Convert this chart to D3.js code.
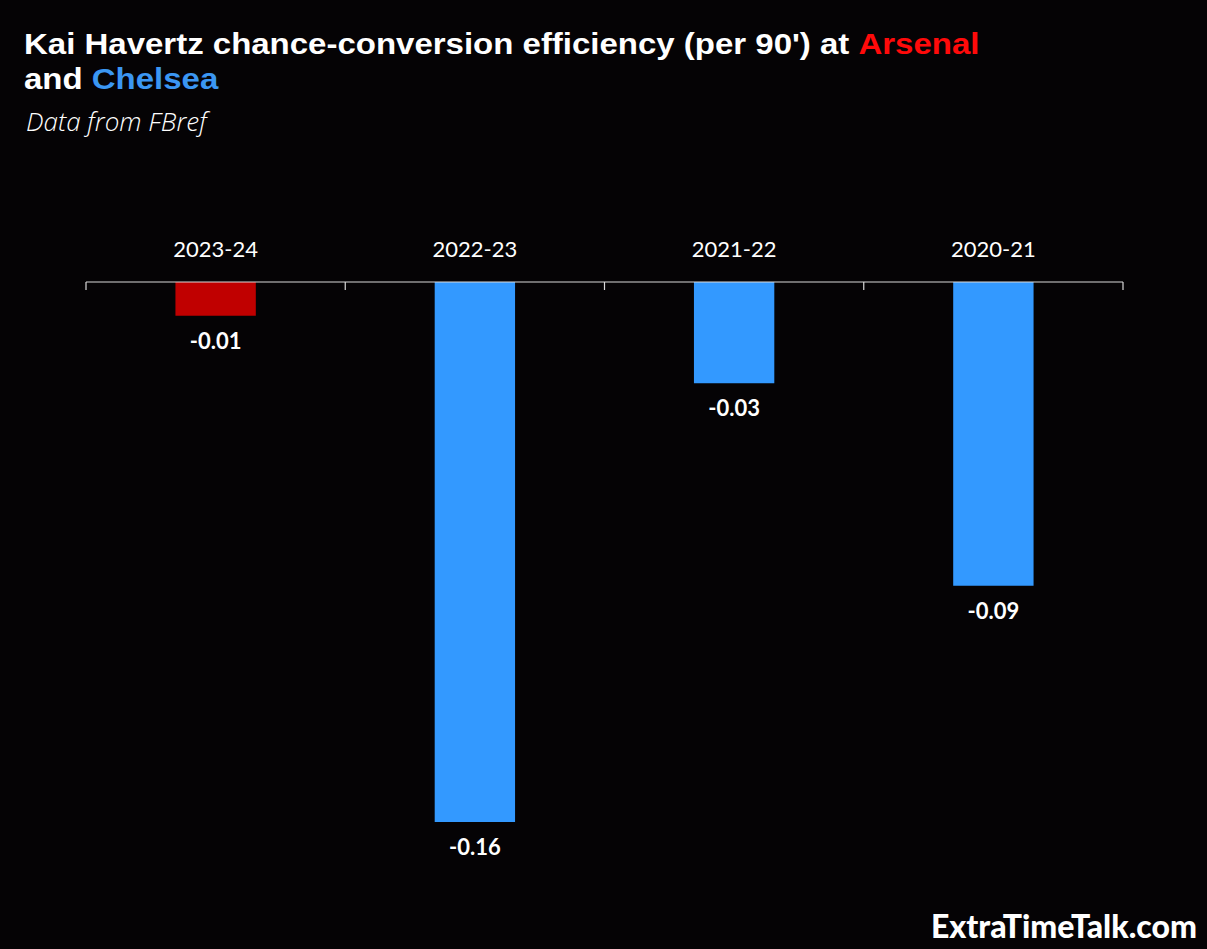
<!DOCTYPE html>
<html>
<head>
<meta charset="utf-8">
<script src="https://cdn.jsdelivr.net/npm/d3@7"></script>
<style>
  html, body { margin: 0; padding: 0; background: #050305; }
</style>
</head>
<body>
<div id="chart"></div>
<script>
// data
var seasons = ["2023-24", "2022-23", "2021-22", "2020-21"];
var values = [-0.01, -0.16, -0.03, -0.09];
var clubs = ["Arsenal", "Chelsea", "Chelsea", "Chelsea"];

var w = 1207, h = 949;
var colors = { Arsenal: "#c00000", Chelsea: "#3399ff" };

var svg = d3.select("#chart").append("svg")
  .attr("width", w)
  .attr("height", h)
  .style("background", "#050305");

// title (slightly widened glyphs like the original)
var titleG = svg.append("g").attr("transform", "translate(24,0) scale(1.1,1)");
var title = titleG.append("text")
  .attr("x", 0).attr("y", 54)
  .attr("font-family", "Liberation Sans, Arial, sans-serif")
  .attr("font-weight", "bold")
  .attr("font-size", 30)
  .attr("fill", "#ffffff");
title.append("tspan").text("Kai Havertz chance-conversion efficiency (per 90') at ");
title.append("tspan").attr("fill", "#ff0a0a").text("Arsenal");

var title2 = titleG.append("text")
  .attr("x", 0).attr("y", 89)
  .attr("font-family", "Liberation Sans, Arial, sans-serif")
  .attr("font-weight", "bold")
  .attr("font-size", 30)
  .attr("fill", "#ffffff");
title2.append("tspan").text("and ");
title2.append("tspan").attr("fill", "#3b96f2").text("Chelsea");

svg.append("text")
  .attr("x", 26).attr("y", 131)
  .attr("font-family", "Open Sans, sans-serif")
  .attr("font-style", "italic")
  .attr("font-weight", 300)
  .attr("font-size", 26)
  .attr("fill", "#ffffff")
  .text("Data from FBref");

// scales
var x = d3.scaleBand()
  .domain(seasons)
  .range([86, 1123])
  .paddingInner(0.69)
  .paddingOuter(0.345);

var y = d3.scaleLinear()
  .domain([0, -0.16])
  .range([282, 822]);

// bars
svg.selectAll("rect.bar")
  .data(values)
  .enter()
  .append("rect")
  .attr("class", "bar")
  .attr("x", (d, i) => x(seasons[i]))
  .attr("y", y(0))
  .attr("width", x.bandwidth())
  .attr("height", (d) => y(d) - y(0))
  .attr("fill", (d, i) => colors[clubs[i]]);

// axis line with ticks at band boundaries
var step = x.step();
var axisG = svg.append("g");
axisG.append("line")
  .attr("x1", 86).attr("x2", 1123)
  .attr("y1", y(0)).attr("y2", y(0))
  .attr("stroke", "#d9d9d9")
  .attr("stroke-width", 1.2);
var bounds = [86].concat(seasons.map((s) => x(s) - x.paddingOuter() * step + step));
axisG.selectAll("line.tick")
  .data(bounds)
  .enter()
  .append("line")
  .attr("class", "tick")
  .attr("x1", (d) => d).attr("x2", (d) => d)
  .attr("y1", y(0)).attr("y2", y(0) + 8)
  .attr("stroke", "#d9d9d9")
  .attr("stroke-width", 1.2);

// category labels
svg.selectAll("text.cat")
  .data(seasons)
  .enter()
  .append("text")
  .attr("class", "cat")
  .attr("x", (d) => x(d) + x.bandwidth() / 2)
  .attr("y", 257)
  .attr("text-anchor", "middle")
  .attr("font-family", "Lato, sans-serif")
  .attr("font-size", 22)
  .attr("fill", "#ffffff")
  .text((d) => d);

// value labels
svg.selectAll("text.val")
  .data(values)
  .enter()
  .append("text")
  .attr("class", "val")
  .attr("x", (d, i) => x(seasons[i]) + x.bandwidth() / 2)
  .attr("y", (d) => y(d) + 33)
  .attr("text-anchor", "middle")
  .attr("font-family", "Lato, sans-serif")
  .attr("font-weight", "bold")
  .attr("font-size", 22)
  .attr("fill", "#ffffff")
  .text((d) => d.toFixed(2));

// footer
svg.append("text")
  .attr("x", 1197).attr("y", 938)
  .attr("text-anchor", "end")
  .attr("font-family", "Lato, sans-serif")
  .attr("font-weight", 900)
  .attr("font-size", 32)
  .attr("fill", "#ffffff")
  .text("ExtraTimeTalk.com");
</script>
</body>
</html>
